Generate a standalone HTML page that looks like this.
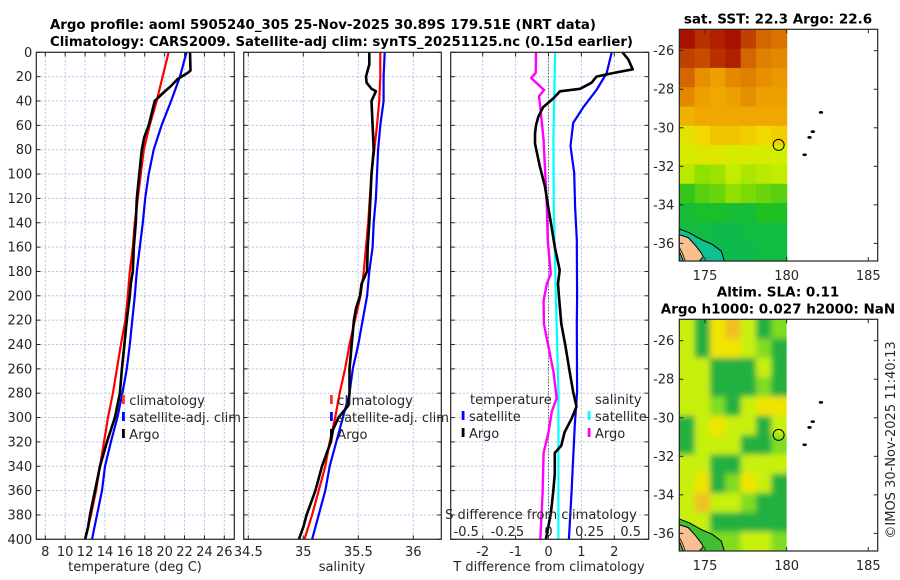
<!DOCTYPE html>
<html><head><meta charset="utf-8"><style>
html,body{margin:0;padding:0;background:#fff;}
svg{display:block;font-family:"DejaVu Sans","Liberation Sans",sans-serif;}
.t{font-size:13px;fill:#262626;}
.b{font-size:13.5px;font-weight:bold;fill:#000;}
</style></head><body>
<svg id="fig" width="900" height="580" viewBox="0 0 900 580" xmlns="http://www.w3.org/2000/svg">
<text class="b" x="50" y="29" textLength="546" lengthAdjust="spacingAndGlyphs">Argo profile: aoml 5905240_305 25-Nov-2025 30.89S 179.51E (NRT data)</text>
<text class="b" x="50" y="46" textLength="583" lengthAdjust="spacingAndGlyphs">Climatology: CARS2009. Satellite-adj clim: synTS_20251125.nc (0.15d earlier)</text>
<g id="g1"></g>
<g id="g2"></g>
<g id="g3"></g>
<g id="m1"></g>
<g id="m2"></g>
<text class="t" transform="translate(895,440) rotate(-90)" text-anchor="middle">©IMOS 30-Nov-2025 11:40:13</text>
</svg>
<script>
// ---- data ----
const depthTicks=[0,20,40,60,80,100,120,140,160,180,200,220,240,260,280,300,320,340,360,380,400];
const tempTicks=[8,10,12,14,16,18,20,22,24,26];
const salTicks=[34.5,35,35.5,36];
const salTickLabels=["34.5","35","35.5","36"];
const diffTicks=[-2,-1,0,1,2];
const sdiffTicks=[-0.5,-0.25,0,0.25,0.5];
const sdiffTickLabels=["-0.5","-0.25","0","0.25","0.5"];

const climD=[0,20,40,60,80,100,120,140,160,180,200,220,240,260,280,300,320,340,360,380,400];
const climT=[20.4,19.8,19.2,18.5,17.9,17.6,17.3,17.0,16.8,16.5,16.3,16.05,15.6,15.2,14.8,14.3,13.9,13.5,13.1,12.6,12.0];
const satT=[22.2,21.55,20.65,19.7,18.9,18.4,18.05,17.8,17.5,17.2,17.0,16.75,16.5,16.2,15.75,15.25,14.6,14.0,13.7,13.2,12.7];
const argoTD=[0,15,17,22,28,33,40,50,60,70,80,100,120,140,160,180,190,200,220,240,260,280,300,320,340,360,380,390,400];
const argoT=[22.55,22.6,22.3,21.3,20.6,19.9,19.0,18.7,18.4,17.95,17.7,17.45,17.2,17.1,16.9,16.8,16.6,16.5,16.2,15.95,15.7,15.5,15.0,14.2,13.5,13.0,12.5,12.3,12.0];

const climS=[35.70,35.70,35.69,35.67,35.645,35.62,35.605,35.59,35.57,35.55,35.52,35.47,35.42,35.38,35.33,35.29,35.24,35.20,35.14,35.08,35.01];
const satS=[35.74,35.73,35.73,35.70,35.68,35.67,35.66,35.64,35.63,35.60,35.58,35.54,35.50,35.45,35.42,35.36,35.30,35.24,35.20,35.14,35.08];
const argoSD=[0,10,20,25,30,32,40,60,80,100,120,140,160,180,190,200,210,220,240,260,280,290,300,310,320,330,340,360,380,390,400];
const argoS=[35.60,35.60,35.57,35.575,35.62,35.66,35.62,35.63,35.64,35.62,35.61,35.60,35.585,35.58,35.53,35.515,35.48,35.46,35.44,35.42,35.42,35.41,35.32,35.27,35.25,35.21,35.17,35.11,35.03,35.00,34.96];

const dSatTD=[0,17,31,45,58,77,99,127,154,201,223,279,306,333,362,400];
const dSatT=[1.92,1.77,1.46,1.06,0.75,0.67,0.78,0.81,0.86,0.87,0.86,0.87,0.8,0.75,0.70,0.62];
const dArgoTD=[0,6,14,17,20,25,30,32,38,45,53,60,67,75,80,94,110,127,143,160,179,190,201,223,242,262,279,291,301,312,323,329,346,362,379,400];
const dArgoT=[2.25,2.43,2.56,1.97,1.46,1.31,0.96,0.35,0.14,-0.16,-0.31,-0.38,-0.41,-0.41,-0.37,-0.26,-0.11,-0.01,0.09,0.19,0.34,0.29,0.32,0.39,0.52,0.64,0.75,0.85,0.70,0.49,0.39,0.19,0.19,0.14,0.07,-0.08];
const dSatSD=[0,72,127,201,279,400];
const dSatS=[0.04,0.03,0.032,0.045,0.06,0.06];
const dArgoSD=[0,17,21,25,31,36,45,72,99,127,154,182,190,204,223,242,262,284,295,312,329,362,400];
const dArgoS=[-0.076,-0.078,-0.106,-0.075,-0.027,-0.058,-0.05,-0.03,-0.02,-0.01,-0.005,0.014,-0.01,-0.03,-0.028,0.0,0.03,0.05,0.02,0.0,-0.03,-0.036,-0.05];

const mapLonTicks=[175,180,185];
const mapLatTicks=[-26,-28,-30,-32,-34,-36];
const sstRows=[
[23.6,23.4,23.5,23.6,23.3,23.0,22.9],
[23.3,23.2,23.4,23.5,23.0,22.8,22.7],
[23.0,22.6,22.4,22.7,22.8,22.6,22.5],
[22.7,22.4,22.3,22.4,22.6,22.4,22.4],
[22.2,22.3,22.3,22.3,22.3,22.3,22.3],
[21.6,21.8,22.0,22.0,21.9,21.8,21.9],
[21.4,21.5,21.5,21.4,21.4,21.4,21.3],
[21.1,20.8,20.9,21.2,21.0,21.1,21.2],
[20.3,20.5,20.6,20.8,20.7,20.6,20.5],
[20.0,20.1,20.1,20.0,20.0,20.2,20.2],
[19.9,19.9,19.8,19.8,19.9,19.9,19.9],
[19.5,19.7,19.8,19.8,19.8,19.9,19.9]];
const slaRows=[
[2,0,3,4,2,0,1],[2,0,3,3,2,1,0],[2,2,0,0,0,2,0],[2,2,0,0,0,1,0],
[2,2,1,0,2,3,3],[0,2,3,2,2,0,2],[0,2,2,2,0,0,1],[2,2,0,0,2,2,2],
[2,3,0,1,3,2,0],[2,4,2,2,1,0,0],[2,2,0,0,0,0,0],[1,1,1,1,2,2,1]];
const islandsLon=[181.1,181.4,181.6,182.1];
const islandsLat=[-31.4,-30.5,-30.2,-29.2];
const floatLon=179.51, floatLat=-30.89;

// ---- helpers ----
const NS="http://www.w3.org/2000/svg";
function mk(parent,tag,attrs,txt){const e=document.createElementNS(NS,tag);for(const k in attrs)e.setAttribute(k,attrs[k]);if(txt!==undefined)e.textContent=txt;parent.appendChild(e);return e;}
const Y0=52.3,Y1=539.3;
const yD=d=>Y0+d*(Y1-Y0)/400;
function lin(d0,d1,r0,r1){return v=>r0+(v-d0)*(r1-r0)/(d1-d0);}
const xT=lin(8,26,45.3,224.3);
const xS=lin(34.5,36,248.3,413.3);
const xD=lin(-2,2,482.7,614.3);
const xSD=v=>xD(v*5);

function pathFrom(xs,ds,fx){return xs.map((v,i)=>(i?'L':'M')+fx(v).toFixed(1)+' '+yD(ds[i]).toFixed(1)).join(' ');}

function panel(g,x0,x1,xticks,fx,labels,showDepth){
  mk(g,'rect',{x:x0,y:Y0,width:x1-x0,height:Y1-Y0,fill:'#fff'});
  depthTicks.forEach(d=>{
    const l=mk(g,'line',{x1:x0,x2:x1,y1:yD(d),y2:yD(d),stroke:'#b8bfe6','stroke-width':1,'stroke-dasharray':'2,2'});
    
    mk(g,'line',{x1:x0,x2:x0+4,y1:yD(d),y2:yD(d),stroke:'#262626'});
    mk(g,'line',{x1:x1-4,x2:x1,y1:yD(d),y2:yD(d),stroke:'#262626'});
    if(showDepth){const t=mk(g,'text',{x:x0-4,y:yD(d)+4.5,'text-anchor':'end',class:'t'},String(d));
      }
  });
  xticks.forEach((v,i)=>{
    const X=fx(v);
    const l=mk(g,'line',{x1:X,x2:X,y1:Y0,y2:Y1,stroke:'#b8bfe6','stroke-width':1,'stroke-dasharray':'2,2'});
    
    mk(g,'line',{x1:X,x2:X,y1:Y1-4,y2:Y1,stroke:'#262626'});
    mk(g,'line',{x1:X,x2:X,y1:Y0,y2:Y0+4,stroke:'#262626'});
    const t=mk(g,'text',{x:X,y:556,'text-anchor':'middle',class:'t'},labels?labels[i]:String(v));
    
  });
}
function series(g,xs,ds,fx,color,w,name){
  const p=mk(g,'path',{d:pathFrom(xs,ds,fx),fill:'none',stroke:color,'stroke-width':w,'stroke-linejoin':'round'});
  
}
function frame(g,x0,x1){mk(g,'rect',{x:x0,y:Y0,width:x1-x0,height:Y1-Y0,fill:'none',stroke:'#262626','stroke-width':1.2});}
function legItem(g,x,y,color,label,name){
  mk(g,'rect',{x:x-1.3,y:y-10,width:2.8,height:9,fill:color});
  const t=mk(g,'text',{x:x+6,y:y,class:'t'},label);
  
}

// panel 1
const g1=document.getElementById('g1');
panel(g1,36.3,234.3,tempTicks,xT,null,true);
series(g1,climT,climD,xT,'#ff0000',2.2,'temp-climatology-line');
series(g1,satT,climD,xT,'#0000ff',2.2,'temp-satellite-line');
series(g1,argoT,argoTD,xT,'#000000',2.6,'temp-argo-line');
frame(g1,36.3,234.3);
legItem(g1,123.3,405,'#ff3030','climatology','legend-climatology');
legItem(g1,123.3,422,'#0000ff','satellite-adj. clim','legend-satellite');
legItem(g1,123.3,439,'#000','Argo','legend-argo');
{const t=mk(g1,'text',{x:135,y:571,'text-anchor':'middle',class:'t'},'temperature (deg C)');}

// panel 2
const g2=document.getElementById('g2');
panel(g2,243.7,441.3,salTicks,xS,salTickLabels,false);
series(g2,climS,climD,xS,'#ff0000',2.2,'sal-climatology-line');
series(g2,satS,climD,xS,'#0000ff',2.2,'sal-satellite-line');
series(g2,argoS,argoSD,xS,'#000000',2.6,'sal-argo-line');
frame(g2,243.7,441.3);
legItem(g2,331.3,405,'#ff3030','climatology','legend-climatology');
legItem(g2,331.3,422,'#0000ff','satellite-adj. clim','legend-satellite');
legItem(g2,331.3,439,'#000','Argo','legend-argo');
{const t=mk(g2,'text',{x:342,y:571,'text-anchor':'middle',class:'t'},'salinity');}

// panel 3
const g3=document.getElementById('g3');
panel(g3,450.7,648.7,diffTicks,xD,null,false);
mk(g3,'line',{x1:xD(0),x2:xD(0),y1:Y0,y2:Y1,stroke:'#404040','stroke-width':1,'stroke-dasharray':'1,2'});
series(g3,dSatS,dSatSD,xSD,'#00ffff',2.2,'sdiff-satellite-line');
series(g3,dArgoS,dArgoSD,xSD,'#ff00ff',2.4,'sdiff-argo-line');
series(g3,dSatT,dSatTD,xD,'#0000ff',2.2,'tdiff-satellite-line');
series(g3,dArgoT,dArgoTD,xD,'#000000',2.6,'tdiff-argo-line');
frame(g3,450.7,648.7);
{const t=mk(g3,'text',{x:470,y:404,class:'t'},'temperature');}
{const t=mk(g3,'text',{x:595,y:404,class:'t'},'salinity');}
legItem(g3,463,421,'#0000ff','satellite','legend-t-satellite');
legItem(g3,463,438,'#000','Argo','legend-t-argo');
legItem(g3,589,421,'#00ffff','satellite','legend-s-satellite');
legItem(g3,589,438,'#ff00ff','Argo','legend-s-argo');
{const t=mk(g3,'text',{x:541,y:519,'text-anchor':'middle',class:'t'},'S difference from climatology');}
sdiffTicks.forEach((v,i)=>{const t=mk(g3,'text',{x:xSD(v),y:536,'text-anchor':'middle',class:'t'},sdiffTickLabels[i]);
  });
{const t=mk(g3,'text',{x:549,y:571,'text-anchor':'middle',class:'t'},'T difference from climatology');}

// maps
const lonX=lin(175,185,705,868.3);
function sstColor(v){
  const st=[[19.5,[0,180,110]],[20.2,[32,192,32]],[20.8,[144,224,0]],[21.3,[208,240,0]],[21.8,[240,216,0]],[22.3,[240,168,0]],[22.8,[224,128,0]],[23.3,[192,64,0]],[23.7,[160,0,0]]];
  if(v<=st[0][0])return 'rgb('+st[0][1]+')';
  for(let i=1;i<st.length;i++){if(v<=st[i][0]){const f=(v-st[i-1][0])/(st[i][0]-st[i-1][0]);const c=st[i-1][1].map((a,k)=>Math.round(a+(st[i][1][k]-a)*f));return 'rgb('+c+')';}}
  return 'rgb('+st[st.length-1][1]+')';
}
const slaColors=['#22b040','#80dc20','#c8f010','#f0e400','#f0c020'];
function drawMap(g,top,bot,latRef,rows,colorFn,blur,title1,title2){
  const latY=l=>latRef+(-26-l)*19.27;
  const xL=679.3,xR=877.7,xData=lonX(180);
  mk(g,'rect',{x:xL,y:top,width:xR-xL,height:bot-top,fill:'#fff'});
  const cg=mk(g,'g',{});
  if(blur){const f=mk(g,'filter',{id:'blur'+Math.round(top)});mk(f,'feGaussianBlur',{stdDeviation:3});
    const cp=mk(g,'clipPath',{id:'cp'+Math.round(top)});mk(cp,'rect',{x:xL,y:top,width:xData-xL,height:bot-top});
    cg.setAttribute('clip-path','url(#cp'+Math.round(top)+')');}
  const inner=mk(cg,'g',blur?{filter:'url(#blur'+Math.round(top)+')'}:{});
  const nr=rows.length,nc=rows[0].length,cw=(xData-xL)/nc,rh=(bot-top)/nr;
  rows.forEach((row,r)=>row.forEach((v,c)=>{
    const e=mk(inner,'rect',{x:xL+c*cw-(blur?6:0)*(c==0),y:top+r*rh-(blur?6:0)*(r==0),width:cw+0.6+(blur?6:0)*(c==0||c==nc-1),height:rh+0.6+(blur?6:0)*(r==0||r==nr-1),fill:colorFn(v)});
    
  }));
  // land
  mk(g,'path',{d:`M${xL} ${latY(-35.25)} L${xL+10} ${latY(-35.45)} L${xL+22} ${latY(-35.8)} L${xL+33} ${latY(-36.05)} L${xL+42} ${latY(-36.4)} L${xL+45} ${bot} L${xL} ${bot} Z`,fill:blur?'#40c030':'#10c090',stroke:'#000','stroke-width':1});
  mk(g,'path',{d:`M${xL} ${latY(-35.55)} L${xL+9} ${latY(-35.7)} L${xL+16} ${latY(-36.1)} L${xL+22} ${latY(-36.5)} L${xL+24} ${latY(-36.7)} L${xL+20} ${bot} L${xL+4} ${bot} L${xL} ${latY(-36.4)} Z`,fill:'#f8c090',stroke:'#000','stroke-width':1});
  mk(g,'path',{d:`M${xL} ${latY(-36.2)} L${xL+3} ${latY(-36.5)} L${xL+6} ${bot}`,fill:'none',stroke:'#000','stroke-width':0.8});
  // islands
  islandsLon.forEach((lo,i)=>{const e=mk(g,'ellipse',{cx:lonX(lo),cy:latY(islandsLat[i]),rx:2.2,ry:1.4,fill:'#000'});
    });
  const c=mk(g,'circle',{cx:lonX(floatLon),cy:latY(floatLat),r:5.5,fill:'none',stroke:'#000','stroke-width':1});
  
  mk(g,'rect',{x:xL,y:top,width:xR-xL,height:bot-top,fill:'none',stroke:'#262626','stroke-width':1.2});
  mapLatTicks.forEach(l=>{const Y=latY(l);mk(g,'line',{x1:xL,x2:xL+4,y1:Y,y2:Y,stroke:'#262626'});mk(g,'line',{x1:xR-4,x2:xR,y1:Y,y2:Y,stroke:'#262626'});
    const t=mk(g,'text',{x:xL-5,y:Y+4.5,'text-anchor':'end',class:'t'},String(l));});
  mapLonTicks.forEach(l=>{const X=lonX(l);mk(g,'line',{x1:X,x2:X,y1:bot-4,y2:bot,stroke:'#262626'});mk(g,'line',{x1:X,x2:X,y1:top,y2:top+4,stroke:'#262626'});
    const t=mk(g,'text',{x:X,y:bot+19,'text-anchor':'middle',class:'t'},String(l));});
  if(title2){
    const a=mk(g,'text',{x:778,y:top-23,'text-anchor':'middle',class:'b'},title1);
    const b=mk(g,'text',{x:778,y:top-6,'text-anchor':'middle',class:'b'},title2);
  } else {
    const a=mk(g,'text',{x:778,y:top-6,'text-anchor':'middle',class:'b'},title1);
  }
}
drawMap(document.getElementById('m1'),29.3,261,50.7,sstRows,sstColor,false,'sat. SST: 22.3 Argo: 22.6',null);
drawMap(document.getElementById('m2'),319.3,551,340.7,slaRows,v=>slaColors[v],true,'Altim. SLA: 0.11','Argo h1000: 0.027 h2000: NaN');
</script>
</body></html>
